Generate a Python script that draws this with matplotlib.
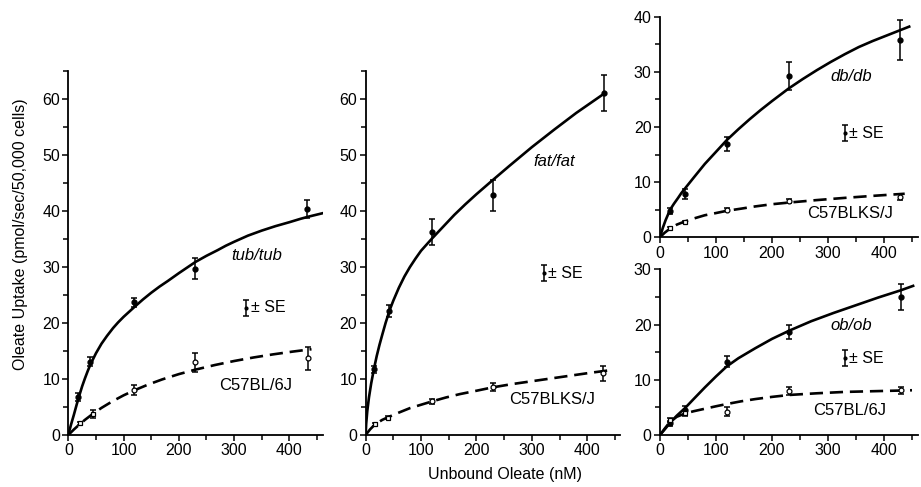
import matplotlib
matplotlib.use('Agg')
import matplotlib.pyplot as plt
from matplotlib.ticker import MultipleLocator

plt.rcParams['font.family'] = ['Liberation Sans', 'DejaVu Sans']
plt.rcParams['font.size'] = 11.5

# ---- data ----
# tub/tub vs C57BL/6J
tub_x = [18, 40, 119, 230, 432]
tub_y = [6.8, 13.1, 23.7, 29.7, 40.4]
tub_e = [0.75, 0.8, 0.8, 1.9, 1.6]
b6a_x = [21, 44, 119, 230, 434]
b6a_y = [2.1, 3.7, 8.0, 13.0, 13.7]
b6a_e = [0.3, 0.7, 0.9, 1.7, 2.1]
tub_fit_x = [0, 2, 5, 10, 15, 20, 25, 30, 35, 40, 50, 60, 70, 81, 90, 100, 110, 120,
             135, 150, 165, 180, 200, 215, 230, 250, 270, 285, 300, 325, 350, 375,
             400, 420, 435, 460]
tub_fit_y = [0, 0.8, 1.9, 3.6, 5.4, 7.1, 8.7, 10.1, 11.4, 12.6, 14.6, 16.3, 17.7,
             19.1, 20.1, 21.1, 22.0, 22.9, 24.2, 25.4, 26.5, 27.5, 28.9, 29.9,
             30.9, 32.0, 33.0, 33.8, 34.5, 35.6, 36.5, 37.3, 38.0, 38.6, 39.0, 39.6]
b6a_fit_x = [0, 10, 20, 30, 44, 60, 80, 100, 120, 145, 170, 200, 230, 265, 300,
             335, 370, 405, 440]
b6a_fit_y = [0, 0.98, 1.87, 2.7, 3.75, 4.84, 6.03, 7.08, 8.0, 9.03, 9.93, 10.87,
             11.67, 12.49, 13.21, 13.84, 14.39, 14.88, 15.32]

# fat/fat vs C57BLKS/J
fat_x = [15, 43, 119, 229, 431]
fat_y = [11.7, 22.2, 36.2, 42.8, 61.0]
fat_e = [0.7, 1.1, 2.3, 2.8, 3.2]
ks1_x = [17, 41, 120, 229, 428]
ks1_y = [1.9, 3.1, 6.0, 8.5, 11.0]
ks1_e = [0.3, 0.3, 0.5, 0.7, 1.4]
fat_fit_x = [0, 1, 3, 6, 10, 15, 20, 25, 30, 36, 43, 50, 60, 70, 80, 90, 100, 119,
             140, 160, 180, 200, 228, 260, 300, 340, 380, 431]
fat_fit_y = [0, 2.0, 4.3, 6.7, 9.2, 11.8, 14.1, 16.1, 17.9, 20.0, 22.2, 24.0, 26.3,
             28.3, 30.0, 31.5, 32.9, 35.0, 37.2, 39.3, 41.2, 43.0, 45.4, 48.1,
             51.4, 54.5, 57.5, 61.0]
ks1_fit_x = [0, 8, 17, 30, 41, 60, 80, 100, 120, 145, 170, 200, 229, 265, 300, 335,
             370, 405, 444]
ks1_fit_y = [0, 1.0, 1.9, 2.7, 3.2, 4.0, 4.8, 5.4, 6.0, 6.7, 7.3, 7.9, 8.5, 9.1,
             9.6, 10.1, 10.6, 11.1, 11.6]

# db/db vs C57BLKS/J
db_x = [18, 45, 119, 230, 429]
db_y = [4.8, 7.8, 16.9, 29.3, 35.8]
db_e = [0.6, 0.9, 1.3, 2.5, 3.6]
ks2_x = [18, 45, 119, 230, 429]
ks2_y = [1.6, 2.8, 5.0, 6.6, 7.3]
ks2_e = [0.2, 0.2, 0.3, 0.4, 0.6]
db_fit_x = [0, 5, 10, 18, 25, 32, 38, 45, 60, 80, 100, 119, 140, 160, 180, 200,
            230, 255, 280, 305, 330, 355, 380, 405, 430, 445]
db_fit_y = [0, 1.7, 3.1, 5.0, 6.1, 7.1, 8.0, 8.9, 10.8, 13.3, 15.5, 17.6, 19.6,
            21.4, 23.1, 24.7, 27.0, 28.7, 30.3, 31.8, 33.2, 34.5, 35.6, 36.6,
            37.6, 38.2]
ks2_fit_x = [0, 8, 18, 30, 45, 60, 80, 100, 119, 145, 170, 200, 230, 280, 330,
             385, 437]
ks2_fit_y = [0, 0.8, 1.6, 2.3, 2.9, 3.4, 4.0, 4.4, 4.8, 5.2, 5.6, 6.0, 6.3, 6.75,
             7.15, 7.55, 7.9]

# ob/ob vs C57BL/6J
ob_x = [18, 45, 119, 231, 430]
ob_y = [2.1, 4.5, 13.3, 18.7, 25.0]
ob_e = [0.4, 0.8, 1.0, 1.3, 2.3]
b6b_x = [18, 45, 119, 231, 430]
b6b_y = [2.7, 3.9, 4.2, 8.0, 8.1]
b6b_e = [0.4, 0.5, 0.8, 0.7, 0.6]
ob_fit_x = [0, 10, 18, 30, 45, 60, 80, 100, 119, 140, 170, 200, 231, 270, 310,
            350, 390, 430, 452]
ob_fit_y = [0, 1.2, 2.2, 3.5, 4.9, 6.5, 8.6, 10.6, 12.4, 13.9, 15.7, 17.4, 18.9,
            20.6, 22.1, 23.5, 24.9, 26.2, 27.0]
b6b_fit_x = [0, 8, 18, 30, 45, 60, 80, 100, 119, 145, 170, 200, 231, 280, 330,
             390, 450]
b6b_fit_y = [0, 1.1, 2.4, 3.3, 3.9, 4.3, 4.75, 5.2, 5.6, 6.1, 6.5, 6.9, 7.25, 7.55,
             7.8, 7.95, 8.1]

ctrl_markers = ['s', 's', 'o', 'o', 'o']


def panel(ax, ylim, ymaj, mx, my, me, mfx, mfy, cx, cy, ce, cfx, cfy,
          mut, ctrl, lab_pos, se_pos, ctrl_pos):
    ax.plot(mfx, mfy, color='black', lw=1.9, zorder=2, solid_joinstyle='round')
    ax.plot(cfx, cfy, color='black', lw=1.9, ls=(0, (5, 2.6)), zorder=2)
    ax.errorbar(mx, my, yerr=me, fmt='o', color='black', ms=3.5,
                capsize=2.5, elinewidth=1.1, capthick=1.1, zorder=3)
    ax.errorbar(cx, cy, yerr=ce, fmt='none', ecolor='black',
                capsize=2.5, elinewidth=1.1, capthick=1.1, zorder=3)
    for xi, yi, m in zip(cx, cy, ctrl_markers):
        ax.plot(xi, yi, marker=m, ms=3.5, mfc='white', mec='black',
                mew=0.9, zorder=4)
    ax.text(lab_pos[0], lab_pos[1], mut, style='italic', fontsize=12,
            ha='center', va='center')
    ax.text(ctrl_pos[0], ctrl_pos[1], ctrl, fontsize=12,
            ha='center', va='center')
    # "± SE" key
    ax.errorbar([se_pos[0]], [se_pos[1]], yerr=[1.4], fmt='o', color='black',
                ms=2, capsize=2.2, elinewidth=1.1, capthick=1.1)
    ax.text(se_pos[0] + 8, se_pos[1], '± SE', fontsize=11.5,
            ha='left', va='center')

    ax.set_xlim(0, 460)
    ax.set_ylim(*ylim)
    for s in ['top', 'right']:
        ax.spines[s].set_visible(False)
    for s in ['left', 'bottom']:
        ax.spines[s].set_linewidth(1.3)
    ax.xaxis.set_major_locator(MultipleLocator(100))
    ax.xaxis.set_minor_locator(MultipleLocator(50))
    ax.yaxis.set_major_locator(MultipleLocator(ymaj))
    ax.yaxis.set_minor_locator(MultipleLocator(ymaj / 2))
    ax.tick_params(which='both', direction='out', width=1.1, labelsize=11.5,
                   pad=2)
    ax.tick_params(which='major', length=4)
    ax.tick_params(which='minor', length=3.5)


fig = plt.figure(figsize=(9.21, 4.87), dpi=100)
ax1 = fig.add_axes([0.0742, 0.1068, 0.276, 0.7474])
ax2 = fig.add_axes([0.397, 0.1068, 0.2767, 0.7474])
ax3 = fig.add_axes([0.7166, 0.5127, 0.2797, 0.453])
ax4 = fig.add_axes([0.7166, 0.1068, 0.2797, 0.3402])

panel(ax1, (0, 65), 10, tub_x, tub_y, tub_e, tub_fit_x, tub_fit_y,
      b6a_x, b6a_y, b6a_e, b6a_fit_x, b6a_fit_y,
      'tub/tub', 'C57BL/6J', (341, 32.1), (322, 22.7), (339, 8.9))
panel(ax2, (0, 65), 10, fat_x, fat_y, fat_e, fat_fit_x, fat_fit_y,
      ks1_x, ks1_y, ks1_e, ks1_fit_x, ks1_fit_y,
      'fat/fat', 'C57BLKS/J', (340, 48.8), (322, 28.9), (337, 6.25))
panel(ax3, (0, 40), 10, db_x, db_y, db_e, db_fit_x, db_fit_y,
      ks2_x, ks2_y, ks2_e, ks2_fit_x, ks2_fit_y,
      'db/db', 'C57BLKS/J', (341, 29.1), (330, 18.9), (339, 4.4))
panel(ax4, (0, 30), 10, ob_x, ob_y, ob_e, ob_fit_x, ob_fit_y,
      b6b_x, b6b_y, b6b_e, b6b_fit_x, b6b_fit_y,
      'ob/ob', 'C57BL/6J', (341, 19.9), (330, 13.9), (339, 4.5))

fig.text(0.022, 0.52, 'Oleate Uptake (pmol/sec/50,000 cells)', rotation=90,
         ha='center', va='center', fontsize=11.5)
fig.text(0.548, 0.025, 'Unbound Oleate (nM)', ha='center', va='center',
         fontsize=11.5)

fig.savefig('out.png', dpi=100)
